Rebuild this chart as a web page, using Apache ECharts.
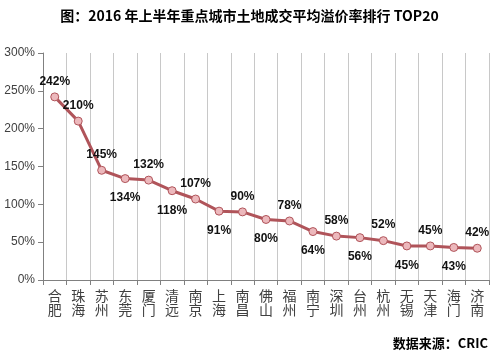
<!DOCTYPE html>
<html><head><meta charset="utf-8">
<script src="https://cdn.jsdelivr.net/npm/echarts@6/dist/echarts.min.js"></script>
<style>html,body{margin:0;padding:0;background:#fff}#c{width:499px;height:360px}</style>
</head><body><div id="c"></div>
<script>
const titleText = '图：2016 年上半年重点城市土地成交平均溢价率排行 TOP20';
const sourceText = '数据来源：CRIC';
const categories = ['合肥','珠海','苏州','东莞','厦门','清远','南京','上海','南昌','佛山','福州','南宁','深圳','台州','杭州','无锡','天津','海门','济南'];
const values = [242,210,145,134,132,118,107,91,90,80,78,64,58,56,52,45,45,43,42];
const yTicks = [0,50,100,150,200,250,300];

const chart = echarts.init(document.getElementById('c'), null, {renderer:'canvas'});
const font = '"Noto Sans CJK SC", "Noto Sans", sans-serif';
chart.setOption({
  animation:false,
  backgroundColor:'#fff',
  title:[
    {text:titleText, left:'center', top:4, textStyle:{fontFamily:font, fontSize:14, fontWeight:'bold', color:'#000'}},
    {text:sourceText, right:6, top:332, textStyle:{fontFamily:font, fontSize:13, fontWeight:'bold', color:'#000'}}
  ],
  grid:{left:43, right:10, top:53, bottom:80},
  xAxis:{
    type:'category', data:categories, boundaryGap:true,
    axisLine:{lineStyle:{color:'#808080', width:1}},
    axisTick:{show:true, length:5, interval:0, lineStyle:{color:'#808080'}},
    splitLine:{show:true, interval:0, lineStyle:{color:'#c8c8c8', width:1}},
    axisLabel:{interval:0, margin:9, fontFamily:font, fontSize:14, color:'#404040', lineHeight:14,
      formatter:v=>v.split('').join('\n')}
  },
  yAxis:{
    type:'value', min:yTicks[0], max:yTicks[yTicks.length-1], interval:50,
    axisLine:{show:true, lineStyle:{color:'#808080'}},
    axisTick:{show:true, length:5, lineStyle:{color:'#808080'}},
    splitLine:{show:false},
    axisLabel:{margin:8, fontFamily:'"Liberation Sans", Arial, sans-serif', fontSize:12, color:'#404040', formatter:v=>v+'%'}
  },
  series:[{
    type:'line', data:values.map((v,i)=>({value:v, label:{position:(i>=3 && i%2===1)?'bottom':'top', distance:(i>=3 && i%2===1)?9:5}})),
    symbol:'circle', symbolSize:8,
    lineStyle:{color:'#b0545a', width:3},
    itemStyle:{color:'#ecb8bc', borderColor:'#b0545a', borderWidth:1},
    label:{show:true, fontFamily:'"Liberation Sans", Arial, sans-serif', fontSize:12, fontWeight:'bold', color:'#111', formatter:p=>p.value+'%'}
  }]
});
</script></body></html>
